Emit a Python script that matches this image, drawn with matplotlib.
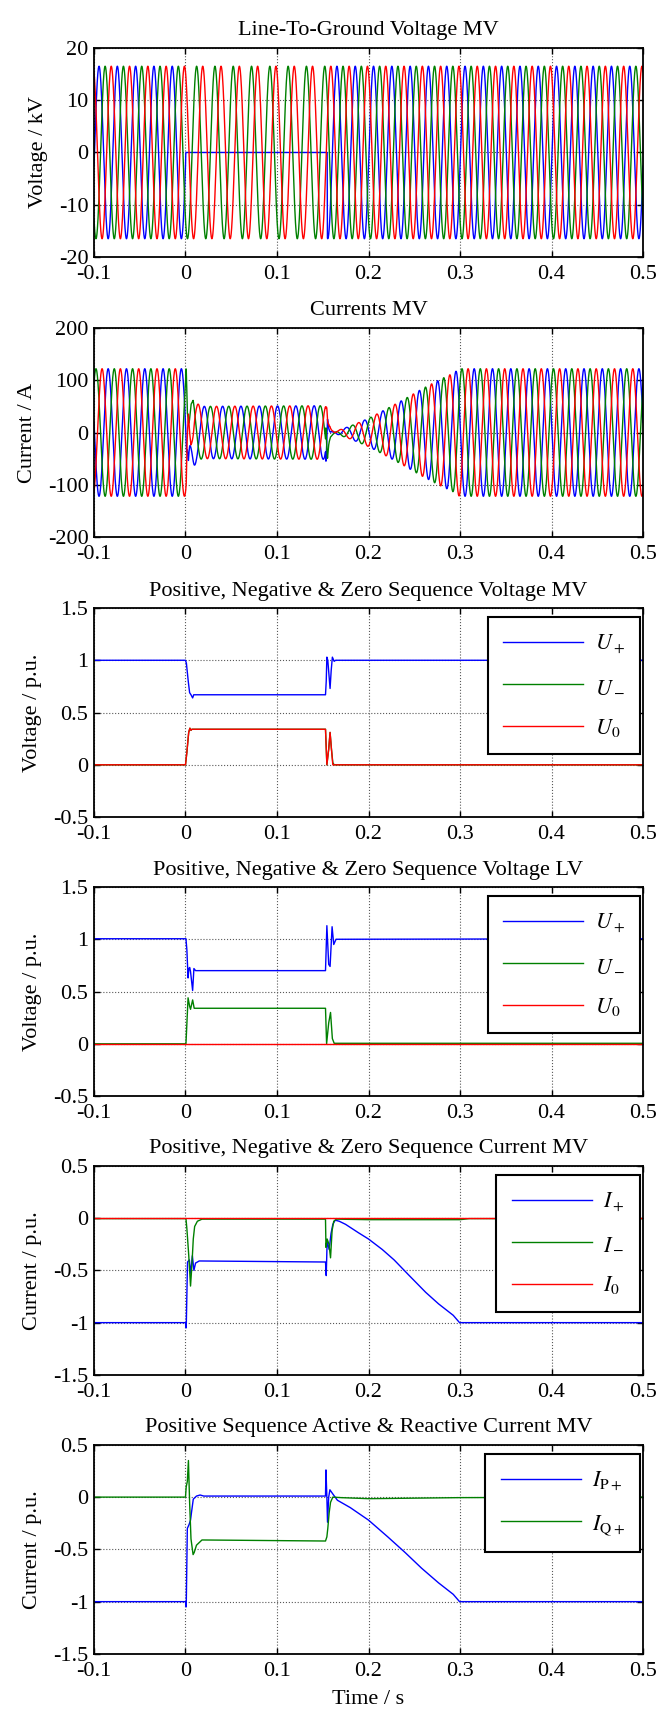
import numpy as np
import matplotlib.pyplot as plt

plt.rcParams['font.family'] = ['Liberation Serif', 'DejaVu Serif']
plt.rcParams['mathtext.fontset'] = 'stix'
plt.rcParams['axes.unicode_minus'] = False
plt.rcParams['font.size'] = 16

# --- base waveform data ---
F_HZ = 50
T_PEAK_BLUE = 0.0055      # time of a blue voltage peak (s)
V_PEAK = 16.5             # kV
I_PEAK = 122              # A

# blue phase voltage amplitude (faulted phase is zero during the fault)
v_blue_t = [-0.1, 0.0, 0.0004, 0.1548, 0.155, 0.5]
v_blue_amp = [16.5, 16.5, 0.0, 0.0, 16.5, 16.5]

# --- sequence voltages MV ---
u_mv_pos_t = [-0.1, 0.0, 0.001, 0.003, 0.0045, 0.006, 0.0078, 0.009, 0.012, 0.153,
              0.1538, 0.1545, 0.1555, 0.158, 0.1592, 0.1605, 0.1625, 0.164, 0.5]
u_mv_pos = [1.0, 1.0, 0.97, 0.8, 0.69, 0.67, 0.64, 0.67, 0.67, 0.67,
            0.8, 1.03, 1.0, 0.73, 0.9, 1.03, 0.99, 1.0, 1.0]
u_mv_neg_t = [-0.1, 0.0, 0.0015, 0.0035, 0.0048, 0.006, 0.007, 0.153, 0.1545,
              0.1565, 0.158, 0.1595, 0.161, 0.1625, 0.5]
u_mv_neg = [0.0, 0.0, 0.12, 0.31, 0.35, 0.33, 0.34, 0.34, 0.0,
            0.15, 0.31, 0.15, 0.02, 0.0, 0.0]
u_mv_zero_t = [-0.1, 0.0, 0.0015, 0.0035, 0.0048, 0.006, 0.007, 0.153, 0.1545,
               0.1565, 0.158, 0.1595, 0.161, 0.5]
u_mv_zero = [0.0, 0.0, 0.12, 0.31, 0.35, 0.33, 0.34, 0.34, 0.0,
             0.15, 0.31, 0.15, 0.0, 0.0]

# --- sequence voltages LV ---
u_lv_pos_t = [-0.1, 0.0005, 0.0015, 0.0028, 0.0037, 0.0046, 0.0055, 0.0078, 0.0092,
              0.011, 0.153, 0.1545, 0.1565, 0.158, 0.1602, 0.162, 0.1645, 0.5]
u_lv_pos = [1.005, 1.005, 0.9, 0.63, 0.72, 0.73, 0.69, 0.51, 0.72,
            0.70, 0.70, 1.13, 0.76, 0.74, 1.12, 0.95, 1.0, 1.005]
u_lv_neg_t = [-0.1, 0.0005, 0.0028, 0.0045, 0.0055, 0.0078, 0.0095, 0.153, 0.1542,
              0.1565, 0.1585, 0.1605, 0.1625, 0.5]
u_lv_neg = [0.0, 0.0, 0.44, 0.36, 0.33, 0.42, 0.34, 0.34, 0.0,
            0.2, 0.30, 0.05, 0.005, 0.005]
u_lv_zero_t = [-0.1, 0.5]
u_lv_zero = [0.0, 0.0]

# --- sequence currents MV ---
i_pos_t = [-0.1, 0.0, 0.0008, 0.0022, 0.0042, 0.0058, 0.0075, 0.0092, 0.011, 0.015,
           0.153, 0.1538, 0.1548, 0.157, 0.159, 0.161, 0.1636, 0.168, 0.175, 0.189,
           0.2, 0.215, 0.228, 0.244, 0.2625, 0.2765, 0.2926, 0.2995, 0.5]
i_pos = [-1.0, -1.0, -1.05, -0.42, -0.4, -0.53, -0.36, -0.5, -0.43, -0.41,
         -0.42, -0.55, -0.22, -0.3, -0.15, -0.06, -0.02, -0.03, -0.06, -0.14,
         -0.2, -0.3, -0.4, -0.545, -0.71, -0.82, -0.93, -1.0, -1.0]
i_neg_t = [-0.1, 0.0005, 0.0015, 0.0035, 0.0055, 0.007, 0.0085, 0.01, 0.013, 0.018,
           0.153, 0.1535, 0.1548, 0.1568, 0.1585, 0.1602, 0.162, 0.165, 0.2, 0.3, 0.31, 0.5]
i_neg = [-0.005, -0.005, -0.1, -0.35, -0.65, -0.45, -0.2, -0.08, -0.03, -0.01,
         -0.01, -0.28, -0.2, -0.25, -0.38, -0.12, -0.03, -0.01, -0.015, -0.015, -0.005, -0.005]
i_zero_t = [-0.1, 0.5]
i_zero = [0.0, 0.0]

# --- positive sequence active / reactive current MV ---
ip_t = [-0.1, 0.0, 0.0008, 0.002, 0.004, 0.0055, 0.0065, 0.0085, 0.012, 0.016, 0.02,
        0.153, 0.1535, 0.1545, 0.1552, 0.1565, 0.1578, 0.161, 0.166, 0.18, 0.2, 0.221,
        0.24, 0.258, 0.2765, 0.2926, 0.2995, 0.5]
ip = [-1.0, -1.0, -1.05, -0.3, -0.26, -0.22, -0.15, -0.02, 0.01, 0.02, 0.01,
      0.01, 0.26, 0.0, -0.24, 0.0, 0.07, 0.03, -0.03, -0.1, -0.22, -0.38,
      -0.53, -0.68, -0.82, -0.93, -1.0, -1.0]
iq_t = [-0.1, 0.0, 0.0008, 0.002, 0.0032, 0.0045, 0.006, 0.0083, 0.0095, 0.012, 0.018,
        0.153, 0.1545, 0.1555, 0.157, 0.1585, 0.161, 0.17, 0.2, 0.3, 0.5]
iq = [0.0, 0.0, 0.1, 0.15, 0.35, -0.05, -0.4, -0.55, -0.53, -0.46, -0.41,
      -0.42, -0.38, -0.3, -0.15, -0.05, 0.0, -0.005, -0.015, -0.005, 0.0]

# --- build phase waveforms (50 Hz carrier, envelopes from the arrays above) ---
t = np.arange(-0.1, 0.5 + 1e-5, 1e-4)
shift = [0.0, 2 * np.pi / 3, 4 * np.pi / 3]   # blue, green, red
theta = [2 * np.pi * F_HZ * (t - T_PEAK_BLUE) - s for s in shift]
ip_env = np.interp(t, ip_t, ip)
iq_env = np.interp(t, iq_t, iq)

v_phase = [np.interp(t, v_blue_t, v_blue_amp) * np.cos(theta[0]),
           V_PEAK * np.cos(theta[1]),
           V_PEAK * np.cos(theta[2])]
i_phase = [I_PEAK * (ip_env * np.cos(th) + iq_env * np.sin(th)) for th in theta]

colors = ['#0000ff', '#008000', '#ff0000']

fig = plt.figure(figsize=(6.61, 17.18), dpi=100)
bottoms = [0.8504, 0.6874, 0.5244, 0.3620, 0.1997, 0.0373]
axes = [fig.add_axes([0.1422, b, 0.8306, 0.1217]) for b in bottoms]


def style(ax, title, ylabel, yticks, ylabels):
    ax.set_xlim(-0.1, 0.5)
    ax.set_ylim(yticks[0], yticks[-1])
    ax.set_xticks([-0.1, 0, 0.1, 0.2, 0.3, 0.4, 0.5])
    ax.set_xticklabels(['-0.1', '0', '0.1', '0.2', '0.3', '0.4', '0.5'])
    ax.set_yticks(yticks)
    ax.set_yticklabels(ylabels)
    ax.set_title(title, fontsize=16, pad=9)
    ax.set_ylabel(ylabel, fontsize=16, labelpad=8)
    ax.grid(True, linestyle=':', color='0.35', linewidth=0.8)
    ax.tick_params(direction='in', top=True, right=True, length=4, width=1)
    ax.tick_params(axis='x', pad=6)
    ax.tick_params(axis='y', pad=4)
    for sp in ax.spines.values():
        sp.set_linewidth(1.3)


def add_legend(ax):
    leg = ax.legend(loc='upper right', bbox_to_anchor=(0.995, 0.957), borderaxespad=0,
                    fancybox=False, edgecolor='black', framealpha=1,
                    handlelength=3.6, handletextpad=0.5, labelspacing=0.9, borderpad=0.7)
    leg.get_frame().set_linewidth(1.5)


# panel 1
ax = axes[0]
for v, c in zip(v_phase, colors):
    ax.plot(t, v, color=c, lw=1)
style(ax, 'Line-To-Ground Voltage MV', 'Voltage / kV',
      [-20, -10, 0, 10, 20], ['-20', '-10', '0', '10', '20'])

# panel 2
ax = axes[1]
for i_, c in zip(i_phase, colors):
    ax.plot(t, i_, color=c, lw=1)
style(ax, 'Currents MV', 'Current / A',
      [-200, -100, 0, 100, 200], ['-200', '-100', '0', '100', '200'])

# panel 3
ax = axes[2]
ax.plot(u_mv_pos_t, u_mv_pos, color=colors[0], lw=1, label=r'$U_+$')
ax.plot(u_mv_neg_t, u_mv_neg, color=colors[1], lw=1, label=r'$U_-$')
ax.plot(u_mv_zero_t, u_mv_zero, color=colors[2], lw=1, label=r'$U_0$')
style(ax, 'Positive, Negative & Zero Sequence Voltage MV', 'Voltage / p.u.',
      [-0.5, 0, 0.5, 1, 1.5], ['-0.5', '0', '0.5', '1', '1.5'])
add_legend(ax)

# panel 4
ax = axes[3]
ax.plot(u_lv_pos_t, u_lv_pos, color=colors[0], lw=1, label=r'$U_+$')
ax.plot(u_lv_neg_t, u_lv_neg, color=colors[1], lw=1, label=r'$U_-$')
ax.plot(u_lv_zero_t, u_lv_zero, color=colors[2], lw=1, label=r'$U_0$')
style(ax, 'Positive, Negative & Zero Sequence Voltage LV', 'Voltage / p.u.',
      [-0.5, 0, 0.5, 1, 1.5], ['-0.5', '0', '0.5', '1', '1.5'])
add_legend(ax)

# panel 5
ax = axes[4]
ax.plot(i_pos_t, i_pos, color=colors[0], lw=1, label=r'$I_+$')
ax.plot(i_neg_t, i_neg, color=colors[1], lw=1, label=r'$I_-$')
ax.plot(i_zero_t, i_zero, color=colors[2], lw=1, label=r'$I_0$')
style(ax, 'Positive, Negative & Zero Sequence Current MV', 'Current / p.u.',
      [-1.5, -1, -0.5, 0, 0.5], ['-1.5', '-1', '-0.5', '0', '0.5'])
add_legend(ax)

# panel 6
ax = axes[5]
ax.plot(ip_t, ip, color=colors[0], lw=1, label=r'$I_{\mathrm{P+}}$')
ax.plot(iq_t, iq, color=colors[1], lw=1, label=r'$I_{\mathrm{Q+}}$')
style(ax, 'Positive Sequence Active & Reactive Current MV', 'Current / p.u.',
      [-1.5, -1, -0.5, 0, 0.5], ['-1.5', '-1', '-0.5', '0', '0.5'])
ax.set_xlabel('Time / s', fontsize=16, labelpad=6)
add_legend(ax)

fig.savefig('out.png', dpi=100)
